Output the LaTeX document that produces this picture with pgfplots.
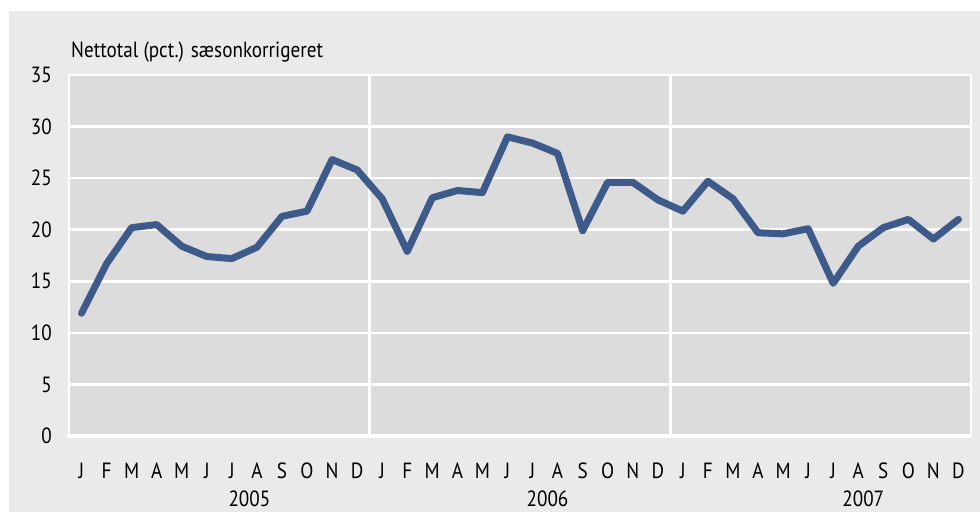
\documentclass[border=0pt]{standalone}
\usepackage{pgfplots}
\pgfplotsset{compat=1.18}
\usepackage{fontspec}
\setmainfont{PT Sans}[FakeStretch=0.87]
\definecolor{linec}{HTML}{3E5A8B}
\definecolor{plotbg}{HTML}{DCDCDC}
\definecolor{outerbg}{HTML}{EAEAEA}
\begin{document}
\begin{tikzpicture}[x=1pt,y=1pt]
\fill[white] (-69,-76) rectangle (911,436);
\fill[outerbg] (-60,-76) rectangle (911,425);
\begin{axis}[
  at={(0,0)}, anchor=south west,
  scale only axis, width=902pt, height=361pt,
  xmin=-0.5, xmax=35.5, ymin=0, ymax=35,
  axis background/.style={fill=plotbg},
  axis line style={white, line width=2.5pt},
  grid=major, grid style={white, line width=2.5pt},
  xtick={11.5,23.5}, xticklabels={},
  extra x ticks={0,...,35},
  extra x tick labels={J,F,M,A,M,J,J,A,S,O,N,D,J,F,M,A,M,J,J,A,S,O,N,D,J,F,M,A,M,J,J,A,S,O,N,D},
  extra x tick style={grid=none, major tick length=0pt, tick label style={font=\fontsize{22}{22}\selectfont, anchor=base, yshift=-42pt, inner sep=0pt}},
  ytick={0,5,...,35},
  major tick length=0pt,
  yticklabel style={font=\fontsize{22}{22}\selectfont, anchor=east, inner sep=0pt, xshift=-17pt},
  /pgf/number format/assume math mode=true,
  clip=false,
]
\addplot[linec, line width=7pt, line join=round, line cap=round] coordinates {
(0,11.9) (1,16.7) (2,20.2) (3,20.5) (4,18.4) (5,17.4) (6,17.2) (7,18.3) (8,21.3) (9,21.8) (10,26.8) (11,25.8)
(12,23.0) (13,17.9) (14,23.1) (15,23.8) (16,23.6) (17,29.0) (18,28.4) (19,27.4) (20,19.9) (21,24.6) (22,24.6) (23,22.9)
(24,21.8) (25,24.7) (26,23.0) (27,19.7) (28,19.6) (29,20.1) (30,14.8) (31,18.4) (32,20.2) (33,21.0) (34,19.1) (35,21.0)
};
\draw[white, line width=4pt] (axis cs:-0.58,0) -- (axis cs:35.5,0);
\node[anchor=base, inner sep=0pt, font=\fontsize{22}{22}\selectfont] at (axis cs:6.7,0) [yshift=-70pt] {2005};
\node[anchor=base, inner sep=0pt, font=\fontsize{22}{22}\selectfont] at (axis cs:18.6,0) [yshift=-70pt] {2006};
\node[anchor=base, inner sep=0pt, font=\fontsize{22}{22}\selectfont] at (axis cs:31.2,0) [yshift=-70pt] {2007};
\node[anchor=base west, inner sep=0pt, font=\fontsize{22}{22}\selectfont] at (rel axis cs:0,1) [xshift=2pt, yshift=18pt] {Nettotal (pct.) sæsonkorrigeret};
\end{axis}
\end{tikzpicture}
\end{document}
